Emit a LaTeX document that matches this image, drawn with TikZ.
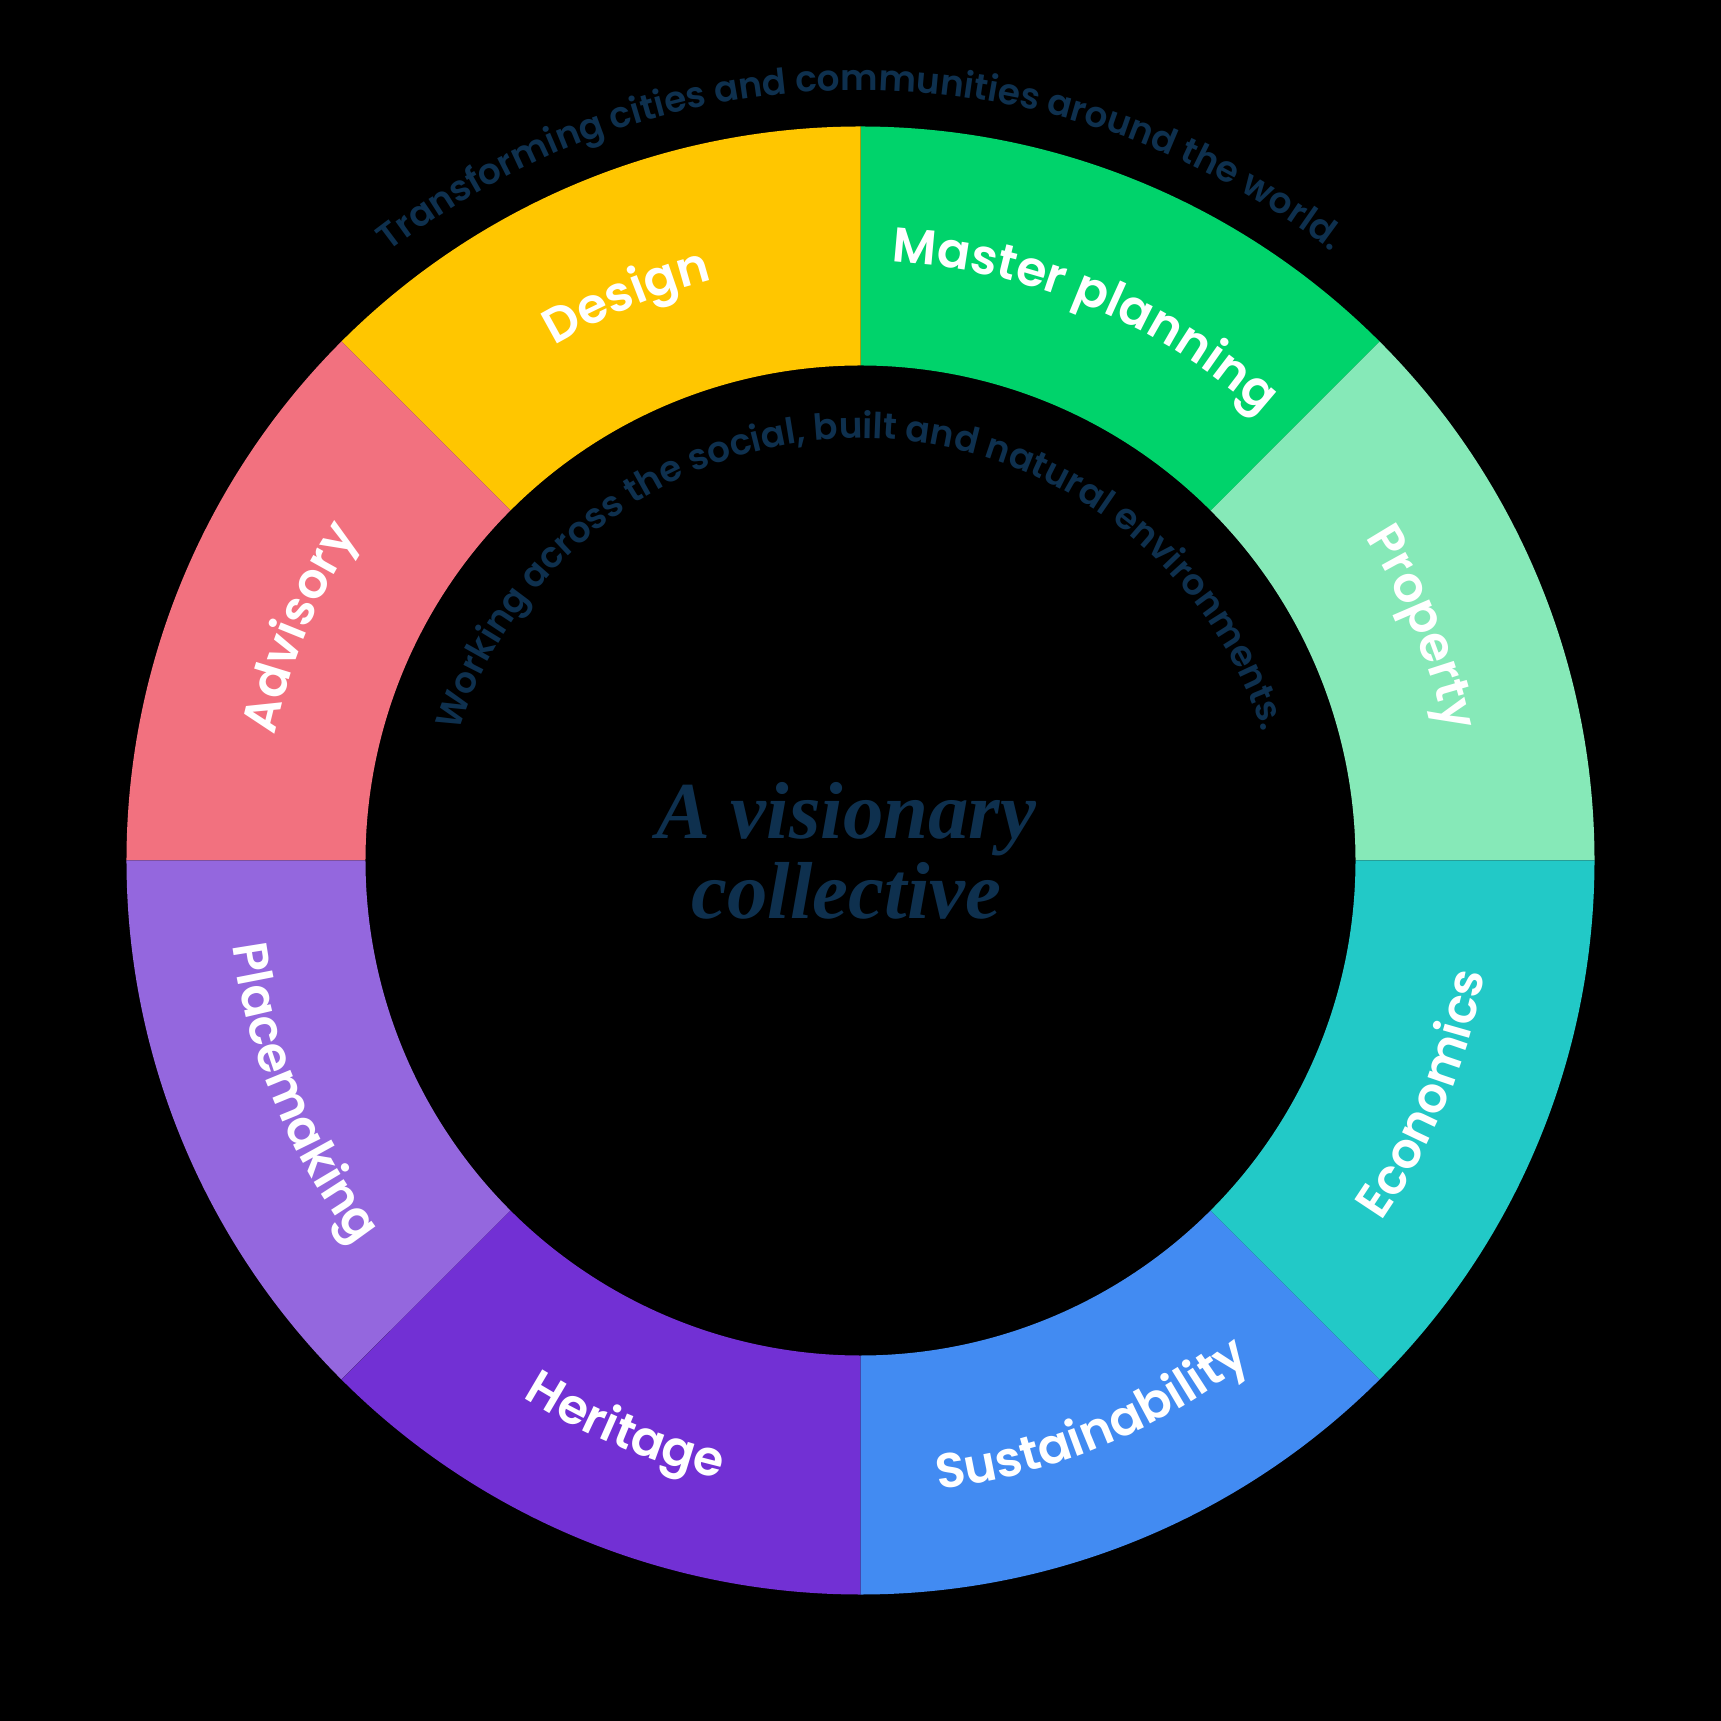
\documentclass[tikz,border=0pt]{standalone}
\usepackage{fontspec}
\setmainfont{Liberation Serif}
\newfontfamily\segfont{Poppins SemiBold}
\newfontfamily\arcfont{Poppins SemiBold}
\usetikzlibrary{decorations.text}
\definecolor{ringyellow}{HTML}{FFC600}
\definecolor{ringgreen}{HTML}{00D36B}
\definecolor{ringmint}{HTML}{86E9B8}
\definecolor{ringteal}{HTML}{22C9C7}
\definecolor{ringblue}{HTML}{428BF2}
\definecolor{ringpurple}{HTML}{7230D4}
\definecolor{ringlilac}{HTML}{9467DE}
\definecolor{ringpink}{HTML}{F2717F}
\definecolor{navy}{HTML}{0E304E}

\tikzset{
  seglabel/.style={decorate, decoration={text along path, text align=center,
    text color=white, text={|\segfont\fontsize{13.9}{16}\selectfont|#1}}},
  arclabel/.style={decorate, decoration={text along path, text align=center,
    text color=navy, text={|\arcfont\fontsize{10.2}{12}\selectfont|#1}}},
}

\begin{document}
\begin{tikzpicture}
    \fill[black] (-8.605,-8.605) rectangle (8.605,8.605);

    % ring segments
    \foreach \a/\col in {0/ringmint, 45/ringgreen, 90/ringyellow, 135/ringpink,
                         180/ringlilac, 225/ringpurple, 270/ringblue, 315/ringteal}
        \fill[\col] (\a:7.34) arc[start angle=\a, end angle=\a+45, radius=7.34]
            -- (\a+45:4.95) arc[start angle=\a+45, end angle=\a, radius=4.95] -- cycle;

    % upper labels, read clockwise
    \path[seglabel=Property] (62.5:5.99) arc[start angle=62.5, end angle=-17.5, radius=5.99];
    \path[seglabel=Master planning] (107.5:5.99) arc[start angle=107.5, end angle=27.5, radius=5.99];
    \path[seglabel=Design] (152.5:5.99) arc[start angle=152.5, end angle=72.5, radius=5.99];
    \path[seglabel=Advisory] (197.5:5.99) arc[start angle=197.5, end angle=117.5, radius=5.99];

    % lower labels, read counterclockwise
    \path[seglabel=Placemaking] (162.5:6.34) arc[start angle=162.5, end angle=242.5, radius=6.34];
    \path[seglabel=Heritage] (207.5:6.34) arc[start angle=207.5, end angle=287.5, radius=6.34];
    \path[seglabel=Sustainability] (252.5:6.34) arc[start angle=252.5, end angle=332.5, radius=6.34];
    \path[seglabel=Economics] (297.5:6.34) arc[start angle=297.5, end angle=377.5, radius=6.34];

    % texts round the ring
    \path[arclabel=Transforming cities and communities around the world.]
        (165:7.7) arc[start angle=165, end angle=15, radius=7.7];
    \path[arclabel=Working across the social{,} built and natural environments.]
        (178:4.22) arc[start angle=178, end angle=2, radius=4.22];

    \node[navy, font=\bfseries\itshape\fontsize{23}{23}\selectfont, anchor=base] (title) at (-0.14,0.22) {A visionary};
    \node[navy, font=\bfseries\itshape\fontsize{23}{23}\selectfont, anchor=base] (subtitle) at (-0.14,-0.58) {collective};
\end{tikzpicture}
\end{document}
